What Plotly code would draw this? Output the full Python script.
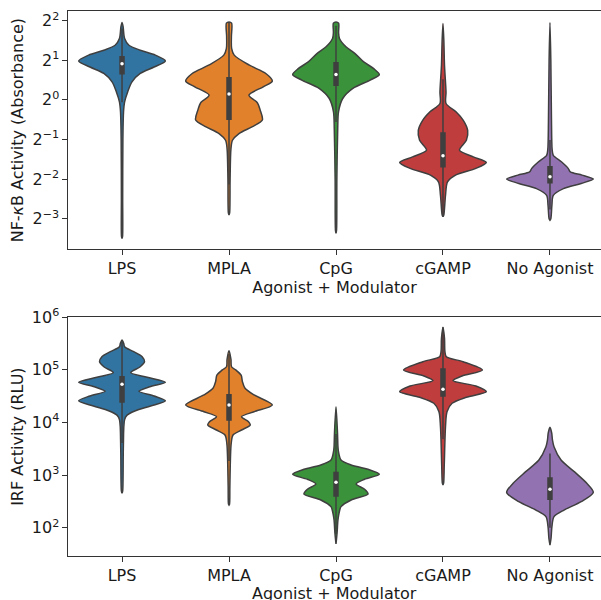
import plotly.graph_objects as go

categories = ["LPS", "MPLA", "CpG", "cGAMP", "No Agonist"]
colors = ["#3274a1", "#e1812c", "#3a923a", "#c03d3e", "#9372b2"]

# ---- NF-kB panel (values as log2 exponents, density relative to widest) ----
nfkb_levels = [
    [1.955, 1.85, 1.55, 1.38, 1.255, 1.13, 0.985, 0.83, 0.667, 0.455, 0.20, -0.05, -0.30, -1.0, -2.5, -3.45, -3.50],
    [1.97, 1.94, 1.6, 1.3, 1.13, 0.876, 0.667, 0.472, 0.33, 0.119, -0.066, -0.26, -0.51, -0.68, -0.85, -1.02, -1.23, -2.0, -2.85, -2.91],
    [1.97, 1.94, 1.7, 1.55, 1.34, 1.17, 0.96, 0.79, 0.64, 0.50, 0.29, 0.035, -0.30, -0.72, -2.0, -3.3, -3.37],
    [1.93, 1.5, 0.876, 0.20, -0.09, -0.30, -0.51, -0.77, -1.02, -1.27, -1.44, -1.58, -1.73, -1.90, -2.07, -2.41, -2.9, -2.95],
    [1.955, 1.0, -0.5, -1.25, -1.40, -1.57, -1.73, -1.82, -1.90, -2.0, -2.11, -2.24, -2.41, -2.66, -3.0, -3.04],
]
nfkb_density = [
    [0, 0.025, 0.06, 0.16, 0.42, 0.77, 1.0, 0.74, 0.42, 0.23, 0.13, 0.06, 0.035, 0.02, 0.015, 0.012, 0],
    [0, 0.06, 0.055, 0.06, 0.12, 0.47, 0.85, 1.0, 0.79, 0.46, 0.65, 0.72, 0.77, 0.53, 0.23, 0.08, 0.045, 0.025, 0.015, 0],
    [0, 0.06, 0.06, 0.08, 0.23, 0.44, 0.64, 0.87, 1.0, 0.79, 0.39, 0.155, 0.058, 0.04, 0.02, 0.012, 0],
    [0, 0.02, 0.035, 0.07, 0.07, 0.30, 0.465, 0.57, 0.54, 0.38, 0.70, 1.0, 0.76, 0.29, 0.105, 0.058, 0.02, 0],
    [0, 0.02, 0.035, 0.05, 0.077, 0.27, 0.42, 0.47, 0.74, 1.0, 0.72, 0.31, 0.077, 0.045, 0.02, 0],
]
nfkb_q1 = [0.64, -0.51, 0.35, -1.71, -2.11]
nfkb_median = [0.91, 0.15, 0.64, -1.41, -1.94]
nfkb_q3 = [1.11, 0.58, 0.96, -0.82, -1.67]
nfkb_whislo = [-0.06, -2.14, -0.56, -2.95, -2.77]
nfkb_whishi = [1.80, 1.97, 1.87, 0.52, -1.01]
nfkb_tickexp = [-3, -2, -1, 0, 1, 2]

# ---- IRF panel (values as log10 exponents) ----
irf_levels = [
    [5.568, 5.5, 5.44, 5.346, 5.25, 5.156, 5.06, 4.947, 4.86, 4.764, 4.68, 4.593, 4.504, 4.414, 4.314, 4.224, 4.14, 4.05, 3.5, 2.7, 2.654],
    [5.365, 5.2, 5.06, 5.0, 4.90, 4.776, 4.65, 4.523, 4.333, 4.205, 4.11, 4.015, 3.952, 3.857, 3.762, 3.60, 2.8, 2.45, 2.43],
    [4.30, 3.8, 3.54, 3.445, 3.287, 3.192, 3.11, 3.015, 2.92, 2.83, 2.73, 2.64, 2.527, 2.40, 2.274, 2.146, 1.9, 1.69],
    [5.81, 5.6, 5.346, 5.25, 5.156, 4.998, 4.884, 4.795, 4.694, 4.586, 4.48, 4.365, 4.205, 3.92, 3.2, 2.85, 2.81],
    [3.909, 3.8, 3.667, 3.54, 3.287, 3.065, 2.844, 2.673, 2.494, 2.336, 2.21, 2.02, 1.8, 1.67],
]
irf_density = [
    [0, 0.04, 0.06, 0.27, 0.465, 0.52, 0.42, 0.20, 0.58, 1.0, 0.64, 0.39, 0.74, 1.0, 0.66, 0.31, 0.116, 0.058, 0.03, 0.015, 0],
    [0, 0.045, 0.058, 0.155, 0.28, 0.31, 0.37, 0.58, 1.0, 0.58, 0.29, 0.45, 0.49, 0.29, 0.093, 0.05, 0.02, 0.012, 0],
    [0, 0.035, 0.045, 0.058, 0.116, 0.35, 0.74, 1.0, 0.66, 0.465, 0.66, 0.74, 0.35, 0.116, 0.07, 0.045, 0.025, 0],
    [0, 0.035, 0.045, 0.077, 0.465, 0.91, 0.44, 0.23, 0.76, 1.0, 0.54, 0.21, 0.093, 0.058, 0.03, 0.015, 0],
    [0, 0.04, 0.058, 0.093, 0.256, 0.56, 0.85, 1.0, 0.72, 0.325, 0.093, 0.045, 0.025, 0],
]
irf_q1 = [4.376, 4.034, 2.59, 4.49, 2.527]
irf_median = [4.726, 4.333, 2.863, 4.63, 2.73]
irf_q3 = [4.884, 4.542, 3.065, 5.03, 2.958]
irf_whislo = [3.61, 3.27, 1.88, 3.68, 2.0]
irf_whishi = [5.568, 5.30, 3.78, 5.81, 3.41]
irf_tickexp = [2, 3, 4, 5, 6]

EDGE = "#3f3f3f"
HALF = 0.405

fig = go.Figure()


def add_panel(levels, density, q1, med, q3, wlo, whi, base, xa, ya):
    for i, cat in enumerate(categories):
        vals = [base ** e for e in levels[i]]
        right = [i + HALF * d for d in density[i]]
        left = [i - HALF * d for d in density[i]]
        fig.add_trace(go.Scatter(
            x=right + left[::-1], y=vals + vals[::-1],
            mode="lines", fill="toself", fillcolor=colors[i],
            line=dict(color=EDGE, width=1.5, shape="spline", smoothing=0.8),
            hoverinfo="skip", showlegend=False, xaxis=xa, yaxis=ya))
        fig.add_trace(go.Scatter(
            x=[i, i], y=[base ** wlo[i], base ** whi[i]], mode="lines",
            line=dict(color=EDGE, width=1.5), hoverinfo="skip",
            showlegend=False, xaxis=xa, yaxis=ya))
        fig.add_trace(go.Scatter(
            x=[i, i], y=[base ** q1[i], base ** q3[i]], mode="lines",
            line=dict(color=EDGE, width=5.5), hoverinfo="skip",
            showlegend=False, xaxis=xa, yaxis=ya))
        fig.add_trace(go.Scatter(
            x=[i], y=[base ** med[i]], mode="markers",
            marker=dict(color="white", size=3.5, line=dict(width=0)),
            hoverinfo="skip", showlegend=False, xaxis=xa, yaxis=ya))


add_panel(nfkb_levels, nfkb_density, nfkb_q1, nfkb_median, nfkb_q3,
          nfkb_whislo, nfkb_whishi, 2, "x", "y")
add_panel(irf_levels, irf_density, irf_q1, irf_median, irf_q3,
          irf_whislo, irf_whishi, 10, "x2", "y2")

font = dict(family="DejaVu Sans", size=16, color="#1a1a1a")
axis_common = dict(showline=True, linecolor="#333333", linewidth=1.1,
                   ticks="outside", ticklen=4.5, tickwidth=1.1, tickcolor="#333333",
                   showgrid=False, zeroline=False, tickfont=font)

xr = [-0.505, 4.477]
fig.update_layout(
    width=601, height=600,
    margin=dict(l=68, r=0, t=11, b=44),
    plot_bgcolor="white", paper_bgcolor="white",
    font=font,
    xaxis=dict(axis_common, domain=[0, 1], anchor="y", range=xr, mirror=True,
               tickvals=list(range(len(categories))), ticktext=categories,
               title=dict(text="Agonist + Modulator", font=font, standoff=0)),
    yaxis=dict(axis_common, domain=[0.5628, 1], anchor="x", type="log",
               range=[-1.1358, 0.6758],
               tickvals=[2 ** e for e in nfkb_tickexp],
               ticktext=["2<sup>%s</sup>" % str(e).replace("-", "\u2212") for e in nfkb_tickexp],
               title=dict(text="NF-<i>κ</i>B Activity (Absorbance)", font=font, standoff=4)),
    xaxis2=dict(axis_common, domain=[0, 1], anchor="y2", range=xr, mirror=True,
                tickvals=list(range(len(categories))), ticktext=categories),
    yaxis2=dict(axis_common, domain=[0, 0.438], anchor="x2", type="log",
                range=[1.462, 6.0],
                tickvals=[10 ** e for e in irf_tickexp],
                ticktext=["10<sup>%d</sup>" % e for e in irf_tickexp],
                title=dict(text="IRF Activity (RLU)", font=font, standoff=4)),
)
fig.add_annotation(text="Agonist + Modulator", xref="x2 domain", yref="paper",
                   x=0.5, y=-0.068, xanchor="center", yanchor="middle",
                   showarrow=False, font=font)

fig.write_html("out.html")
